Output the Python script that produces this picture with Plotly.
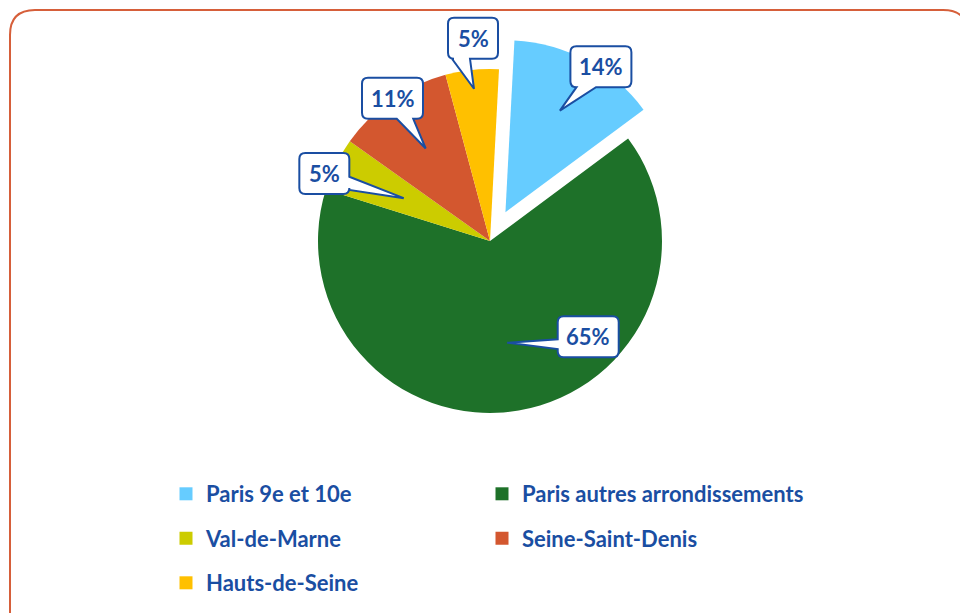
import math
import plotly.graph_objects as go

# ---- data ----
labels = ["Paris 9e et 10e", "Paris autres arrondissements", "Val-de-Marne",
          "Seine-Saint-Denis", "Hauts-de-Seine"]
values = [14, 65, 5, 11, 5]
colors = ["#66CCFF", "#1E7129", "#CCCC00", "#D3572F", "#FFC000"]
pulls = [0.19, 0, 0, 0, 0]

# ---- layout / style ----
W, H = 960, 613
CX, CY, R = 490, 241, 172
ROT = 3
BLUE = "#1A4EA2"
FONT = "Lato"
FS = 22

tip_rfrac = [0.67, 0.6, 0.56, 0.655, 0.89]
box_off = [(41, -44), (81, -6), (-79.4, -24.7), (-33.2, -50.2), (-1, -50.5)]
tail_spec = [("bottom", 0.1, 0.42), ("left", 0.56, 0.8), ("right", 0.58, 0.9),
             ("bottom", 0.57, 0.84), ("bottom", 0.08, 0.44)]
BOX_H = 41
LEG_COL_X = [166, 482]
LEG_ROW_Y = [494, 538.5, 583]

fig = go.Figure()

half = R * (1 + max(pulls))
fig.add_trace(go.Pie(
    labels=labels, values=values, sort=False, direction="clockwise",
    rotation=ROT, pull=pulls, textinfo="none", hoverinfo="label+percent",
    marker=dict(colors=colors, line=dict(width=0)), showlegend=False,
    domain=dict(x=[(CX - half) / W, (CX + half) / W],
                y=[1 - (CY + half) / H, 1 - (CY - half) / H]),
))

# legend entries: two columns, filled row by row (one legend box per entry)
legend_common = dict(orientation="h", xanchor="left", yanchor="middle",
                     bgcolor="rgba(0,0,0,0)", borderwidth=0,
                     font=dict(family=FONT, size=FS, color=BLUE, weight="bold"),
                     itemclick=False, itemdoubleclick=False)
legends = {}
for i, lab in enumerate(labels):
    key = "legend" if i == 0 else f"legend{i + 1}"
    fig.add_trace(go.Scatter(
        x=[None], y=[None], mode="markers", name=lab,
        marker=dict(symbol="square", size=13, color=colors[i], line=dict(width=0)),
        legend=key, showlegend=True, hoverinfo="skip"))
    legends[key] = dict(legend_common, x=LEG_COL_X[i % 2] / W,
                        y=1 - LEG_ROW_Y[i // 2] / H)


def callout_path(x0, y0, x1, y1, rr, edge, f0, f1, tip):
    tx, ty = tip
    p = [f"M{x0 + rr},{y0}"]
    if edge == "top":
        b0, b1 = x0 + f0 * (x1 - x0), x0 + f1 * (x1 - x0)
        p += [f"L{b0},{y0}", f"L{tx},{ty}", f"L{b1},{y0}"]
    p += [f"L{x1 - rr},{y0}", f"Q{x1},{y0} {x1},{y0 + rr}"]
    if edge == "right":
        b0, b1 = y0 + f0 * (y1 - y0), y0 + f1 * (y1 - y0)
        p += [f"L{x1},{b0}", f"L{tx},{ty}", f"L{x1},{b1}"]
    p += [f"L{x1},{y1 - rr}", f"Q{x1},{y1} {x1 - rr},{y1}"]
    if edge == "bottom":
        b0, b1 = x0 + f0 * (x1 - x0), x0 + f1 * (x1 - x0)
        p += [f"L{b1},{y1}", f"L{tx},{ty}", f"L{b0},{y1}"]
    p += [f"L{x0 + rr},{y1}", f"Q{x0},{y1} {x0},{y1 - rr}"]
    if edge == "left":
        b0, b1 = y0 + f0 * (y1 - y0), y0 + f1 * (y1 - y0)
        p += [f"L{x0},{b1}", f"L{tx},{ty}", f"L{x0},{b0}"]
    p += [f"L{x0},{y0 + rr}", f"Q{x0},{y0} {x0 + rr},{y0}", "Z"]
    return " ".join(p)


shapes = []
annotations = []
total = sum(values)
cum = 0
for i, v in enumerate(values):
    mid = math.radians(ROT + (cum + v / 2) / total * 360)
    cum += v
    sx, sy = math.sin(mid), -math.cos(mid)
    ox, oy = CX + pulls[i] * R * sx, CY + pulls[i] * R * sy
    tip = (ox + tip_rfrac[i] * R * sx, oy + tip_rfrac[i] * R * sy)
    text = f"{v}%"
    bw = 28 + 11 * len(text)
    bx, by = tip[0] + box_off[i][0], tip[1] + box_off[i][1]
    x0, x1 = bx - bw / 2, bx + bw / 2
    y0, y1 = by - BOX_H / 2, by + BOX_H / 2
    edge, f0, f1 = tail_spec[i]
    shapes.append(dict(type="path", xref="x", yref="y",
                       path=callout_path(x0, y0, x1, y1, 6, edge, f0, f1, tip),
                       fillcolor="white", line=dict(color=BLUE, width=2), layer="above"))
    annotations.append(dict(x=bx, y=by, xref="x", yref="y", text=text, showarrow=False,
                            font=dict(family=FONT, size=FS, color=BLUE, weight="bold")))

# outer rounded frame
fx0, fy0, fx1, fy1, fr = 10, 10, 968, 640, 25
shapes.append(dict(type="path", xref="x", yref="y", layer="below",
                   path=(f"M{fx0 + fr},{fy0} L{fx1 - fr},{fy0} Q{fx1},{fy0} {fx1},{fy0 + fr} "
                         f"L{fx1},{fy1 - fr} Q{fx1},{fy1} {fx1 - fr},{fy1} L{fx0 + fr},{fy1} "
                         f"Q{fx0},{fy1} {fx0},{fy1 - fr} L{fx0},{fy0 + fr} Q{fx0},{fy0} {fx0 + fr},{fy0} Z"),
                   line=dict(color="#D65F3A", width=2), fillcolor="rgba(0,0,0,0)"))

fig.update_layout(
    width=W, height=H, margin=dict(l=0, r=0, t=0, b=0),
    paper_bgcolor="white", plot_bgcolor="white",
    xaxis=dict(range=[0, W], visible=False, fixedrange=True),
    yaxis=dict(range=[H, 0], visible=False, fixedrange=True),
    shapes=shapes, annotations=annotations, **legends,
)

fig.write_html("out.html", config={"displayModeBar": False},
               post_script="document.body.style.margin='0';document.body.style.overflow='hidden';")
